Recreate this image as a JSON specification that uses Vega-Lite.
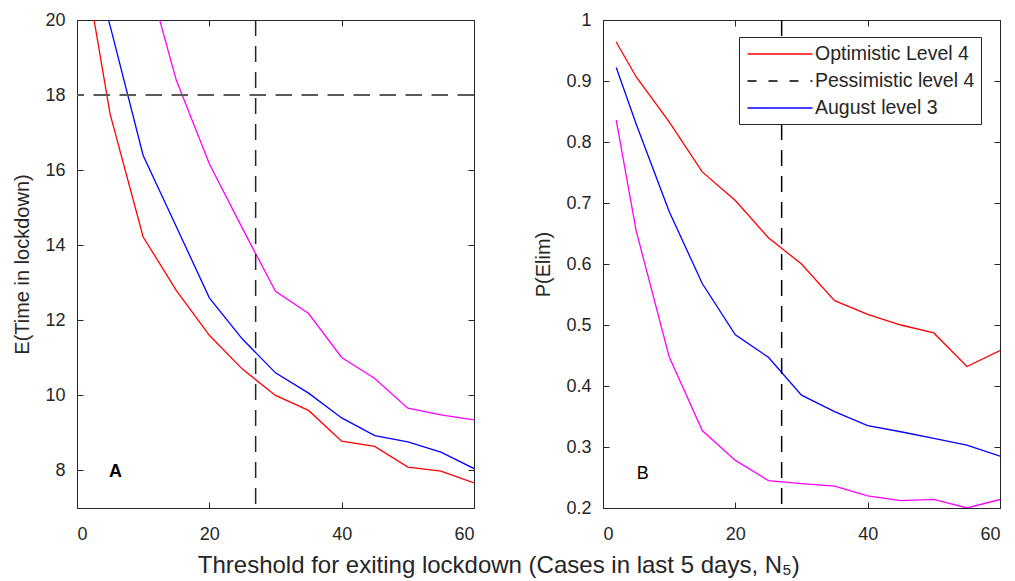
{
  "$schema": "https://vega.github.io/schema/vega-lite/v6.json",
  "padding": {"left": 12, "top": 10, "right": 5, "bottom": 5},
  "background": "white",
  "config": {
    "font": "Liberation Sans",
    "view": {"stroke": "#262626", "strokeWidth": 1},
    "axis": {
      "domain": false,
      "grid": false,
      "tickSize": -6,
      "tickColor": "#262626",
      "tickWidth": 1,
      "labelFont": "Liberation Sans",
      "labelFontSize": 18,
      "labelColor": "#262626",
      "titleFont": "Liberation Sans",
      "titleFontSize": 20,
      "titleFontWeight": "normal",
      "titleColor": "#262626"
    }
  },
  "title": {
    "text": "Threshold for exiting lockdown (Cases in last 5 days, N₅)",
    "orient": "bottom",
    "anchor": "middle",
    "font": "Liberation Sans",
    "fontSize": 24,
    "fontWeight": "normal",
    "color": "#262626",
    "offset": 10,
    "dx": -8
  },
  "bounds": "flush",
  "spacing": 129,
  "datasets": {
    "timeData": [
      {"x": 2, "y": 20.6, "series": "Optimistic Level 4"},
      {"x": 5, "y": 17.5, "series": "Optimistic Level 4"},
      {"x": 10, "y": 14.22, "series": "Optimistic Level 4"},
      {"x": 15, "y": 12.8, "series": "Optimistic Level 4"},
      {"x": 20, "y": 11.6, "series": "Optimistic Level 4"},
      {"x": 25, "y": 10.7, "series": "Optimistic Level 4"},
      {"x": 30, "y": 10.0, "series": "Optimistic Level 4"},
      {"x": 35, "y": 9.6, "series": "Optimistic Level 4"},
      {"x": 40, "y": 8.78, "series": "Optimistic Level 4"},
      {"x": 45, "y": 8.64, "series": "Optimistic Level 4"},
      {"x": 50, "y": 8.09, "series": "Optimistic Level 4"},
      {"x": 55, "y": 7.98, "series": "Optimistic Level 4"},
      {"x": 60, "y": 7.67, "series": "Optimistic Level 4"},
      {"x": 2, "y": 21.7, "series": "August level 3"},
      {"x": 5, "y": 19.85, "series": "August level 3"},
      {"x": 10, "y": 16.39, "series": "August level 3"},
      {"x": 15, "y": 14.5, "series": "August level 3"},
      {"x": 20, "y": 12.6, "series": "August level 3"},
      {"x": 25, "y": 11.5, "series": "August level 3"},
      {"x": 30, "y": 10.6, "series": "August level 3"},
      {"x": 35, "y": 10.06, "series": "August level 3"},
      {"x": 40, "y": 9.4, "series": "August level 3"},
      {"x": 45, "y": 8.93, "series": "August level 3"},
      {"x": 50, "y": 8.76, "series": "August level 3"},
      {"x": 55, "y": 8.49, "series": "August level 3"},
      {"x": 60, "y": 8.05, "series": "August level 3"},
      {"x": 2, "y": 30.0, "series": "Unlabelled scenario"},
      {"x": 5, "y": 26.0, "series": "Unlabelled scenario"},
      {"x": 10, "y": 21.6, "series": "Unlabelled scenario"},
      {"x": 15, "y": 18.4, "series": "Unlabelled scenario"},
      {"x": 20, "y": 16.17, "series": "Unlabelled scenario"},
      {"x": 25, "y": 14.45, "series": "Unlabelled scenario"},
      {"x": 30, "y": 12.77, "series": "Unlabelled scenario"},
      {"x": 35, "y": 12.18, "series": "Unlabelled scenario"},
      {"x": 40, "y": 11.01, "series": "Unlabelled scenario"},
      {"x": 45, "y": 10.45, "series": "Unlabelled scenario"},
      {"x": 50, "y": 9.66, "series": "Unlabelled scenario"},
      {"x": 55, "y": 9.48, "series": "Unlabelled scenario"},
      {"x": 60, "y": 9.35, "series": "Unlabelled scenario"}
    ],
    "elimData": [
      {"x": 2, "y": 0.964, "series": "Optimistic Level 4"},
      {"x": 5, "y": 0.907, "series": "Optimistic Level 4"},
      {"x": 10, "y": 0.833, "series": "Optimistic Level 4"},
      {"x": 15, "y": 0.751, "series": "Optimistic Level 4"},
      {"x": 20, "y": 0.704, "series": "Optimistic Level 4"},
      {"x": 25, "y": 0.643, "series": "Optimistic Level 4"},
      {"x": 30, "y": 0.6, "series": "Optimistic Level 4"},
      {"x": 35, "y": 0.54, "series": "Optimistic Level 4"},
      {"x": 40, "y": 0.5175, "series": "Optimistic Level 4"},
      {"x": 45, "y": 0.5, "series": "Optimistic Level 4"},
      {"x": 50, "y": 0.487, "series": "Optimistic Level 4"},
      {"x": 55, "y": 0.432, "series": "Optimistic Level 4"},
      {"x": 60, "y": 0.458, "series": "Optimistic Level 4"},
      {"x": 2, "y": 0.922, "series": "August level 3"},
      {"x": 5, "y": 0.83, "series": "August level 3"},
      {"x": 10, "y": 0.686, "series": "August level 3"},
      {"x": 15, "y": 0.568, "series": "August level 3"},
      {"x": 20, "y": 0.484, "series": "August level 3"},
      {"x": 25, "y": 0.447, "series": "August level 3"},
      {"x": 30, "y": 0.385, "series": "August level 3"},
      {"x": 35, "y": 0.358, "series": "August level 3"},
      {"x": 40, "y": 0.335, "series": "August level 3"},
      {"x": 45, "y": 0.325, "series": "August level 3"},
      {"x": 50, "y": 0.314, "series": "August level 3"},
      {"x": 55, "y": 0.303, "series": "August level 3"},
      {"x": 60, "y": 0.285, "series": "August level 3"},
      {"x": 2, "y": 0.836, "series": "Unlabelled scenario"},
      {"x": 5, "y": 0.655, "series": "Unlabelled scenario"},
      {"x": 10, "y": 0.448, "series": "Unlabelled scenario"},
      {"x": 15, "y": 0.327, "series": "Unlabelled scenario"},
      {"x": 20, "y": 0.278, "series": "Unlabelled scenario"},
      {"x": 25, "y": 0.245, "series": "Unlabelled scenario"},
      {"x": 30, "y": 0.24, "series": "Unlabelled scenario"},
      {"x": 35, "y": 0.236, "series": "Unlabelled scenario"},
      {"x": 40, "y": 0.22, "series": "Unlabelled scenario"},
      {"x": 45, "y": 0.212, "series": "Unlabelled scenario"},
      {"x": 50, "y": 0.214, "series": "Unlabelled scenario"},
      {"x": 55, "y": 0.2, "series": "Unlabelled scenario"},
      {"x": 60, "y": 0.214, "series": "Unlabelled scenario"}
    ]
  },
  "resolve": {"scale": {"color": "independent"}, "legend": {"color": "independent"}},
  "hconcat": [
    {
      "width": 397,
      "height": 488,
      "resolve": {"axis": {"x": "independent", "y": "independent"}},
      "layer": [
        {
          "data": {"name": "timeData"},
          "mark": {"type": "line", "strokeWidth": 1.3, "clip": true},
          "encoding": {
            "x": {"field": "x", "type": "quantitative", "scale": {"domain": [0, 60], "nice": false, "zero": false},
                  "axis": {"orient": "bottom", "values": [0, 20, 40, 60], "title": null, "labelPadding": 23}},
            "y": {"field": "y", "type": "quantitative", "scale": {"domain": [7, 20], "nice": false, "zero": false},
                  "axis": {"orient": "left", "values": [8, 10, 12, 14, 16, 18, 20], "title": "E(Time in lockdown)", "labelPadding": 18, "titlePadding": 12}},
            "color": {"field": "series", "type": "nominal",
                      "scale": {"domain": ["Optimistic Level 4", "Pessimistic level 4", "August level 3", "Unlabelled scenario"],
                                "range": ["#ff0000", "#000000", "#0000ff", "#ff00ff"]},
                      "legend": null}
          }
        },
        {
          "data": {"values": [{"threshold": 27}]},
          "mark": {"type": "rule", "stroke": "#262626", "strokeWidth": 1.5, "strokeDash": [16, 10]},
          "encoding": {"x": {"field": "threshold", "type": "quantitative", "axis": null}}
        },
        {
          "data": {"values": [{"target": 18}]},
          "mark": {"type": "rule", "stroke": "#5a5a5a", "strokeWidth": 2, "strokeDash": [16.5, 9.5]},
          "encoding": {"y": {"field": "target", "type": "quantitative", "axis": null}}
        },
        {
          "data": {"values": [{"lx": 5.8, "ly": 7.95, "label": "A"}]},
          "mark": {"type": "text", "fontSize": 18, "fontWeight": "bold", "font": "Liberation Sans", "color": "#000000"},
          "encoding": {
            "x": {"field": "lx", "type": "quantitative", "axis": null},
            "y": {"field": "ly", "type": "quantitative", "axis": null},
            "text": {"field": "label"}
          }
        },
        {
          "data": {"name": "timeData"},
          "mark": {"type": "line", "strokeOpacity": 0, "clip": true},
          "encoding": {
            "x": {"field": "x", "type": "quantitative", "axis": {"orient": "top", "values": [0, 20, 40, 60], "labels": false, "title": null}},
            "y": {"field": "y", "type": "quantitative", "axis": {"orient": "right", "values": [8, 10, 12, 14, 16, 18, 20], "labels": false, "title": null}},
            "detail": {"field": "series"}
          }
        }
      ]
    },
    {
      "width": 397,
      "height": 488,
      "resolve": {"axis": {"x": "independent", "y": "independent"}},
      "layer": [
        {
          "data": {"name": "elimData"},
          "mark": {"type": "line", "strokeWidth": 1.3, "clip": true},
          "encoding": {
            "x": {"field": "x", "type": "quantitative", "scale": {"domain": [0, 60], "nice": false, "zero": false},
                  "axis": {"orient": "bottom", "values": [0, 20, 40, 60], "title": null, "labelPadding": 23}},
            "y": {"field": "y", "type": "quantitative", "scale": {"domain": [0.2, 1], "nice": false, "zero": false},
                  "axis": {"orient": "left", "values": [0.2, 0.3, 0.4, 0.5, 0.6, 0.7, 0.8, 0.9, 1], "format": "~g", "title": "P(Elim)", "labelPadding": 18, "titlePadding": 12}},
            "color": {"field": "series", "type": "nominal",
                      "scale": {"domain": ["Optimistic Level 4", "Pessimistic level 4", "August level 3", "Unlabelled scenario"],
                                "range": ["#ff0000", "#000000", "#0000ff", "#ff00ff"]},
                      "legend": {
                        "values": ["Optimistic Level 4", "Pessimistic level 4", "August level 3"],
                        "title": null,
                        "orient": "none",
                        "legendX": 136,
                        "legendY": 17,
                        "symbolType": "M-3.25,0H3.25",
                        "symbolSize": 400,
                        "symbolStrokeWidth": 1.3,
                        "symbolOffset": 24,
                        "labelOffset": 24,
                        "labelFont": "Liberation Sans",
                        "labelFontSize": 19.5,
                        "labelColor": "#262626",
                        "strokeColor": "#262626",
                        "fillColor": "#ffffff",
                        "padding": 6,
                        "rowPadding": 6,
                        "encode": {"symbols": {"update": {"strokeDash": {"signal": "datum.value === 'Pessimistic level 4' ? [9, 12] : [1, 0]"}}}}
                      }}
          }
        },
        {
          "data": {"values": [{"threshold": 27, "scenario": "Pessimistic level 4"}]},
          "mark": {"type": "rule", "strokeWidth": 1.5, "strokeDash": [16, 10]},
          "encoding": {
            "x": {"field": "threshold", "type": "quantitative", "axis": null},
            "color": {"field": "scenario", "type": "nominal"}
          }
        },
        {
          "data": {"values": [{"lx": 6, "ly": 0.255, "label": "B"}]},
          "mark": {"type": "text", "fontSize": 18, "font": "Liberation Sans", "color": "#000000"},
          "encoding": {
            "x": {"field": "lx", "type": "quantitative", "axis": null},
            "y": {"field": "ly", "type": "quantitative", "axis": null},
            "text": {"field": "label"}
          }
        },
        {
          "data": {"name": "elimData"},
          "mark": {"type": "line", "strokeOpacity": 0, "clip": true},
          "encoding": {
            "x": {"field": "x", "type": "quantitative", "axis": {"orient": "top", "values": [0, 20, 40, 60], "labels": false, "title": null}},
            "y": {"field": "y", "type": "quantitative", "axis": {"orient": "right", "values": [0.2, 0.3, 0.4, 0.5, 0.6, 0.7, 0.8, 0.9, 1], "labels": false, "title": null}},
            "detail": {"field": "series"}
          }
        }
      ]
    }
  ]
}
